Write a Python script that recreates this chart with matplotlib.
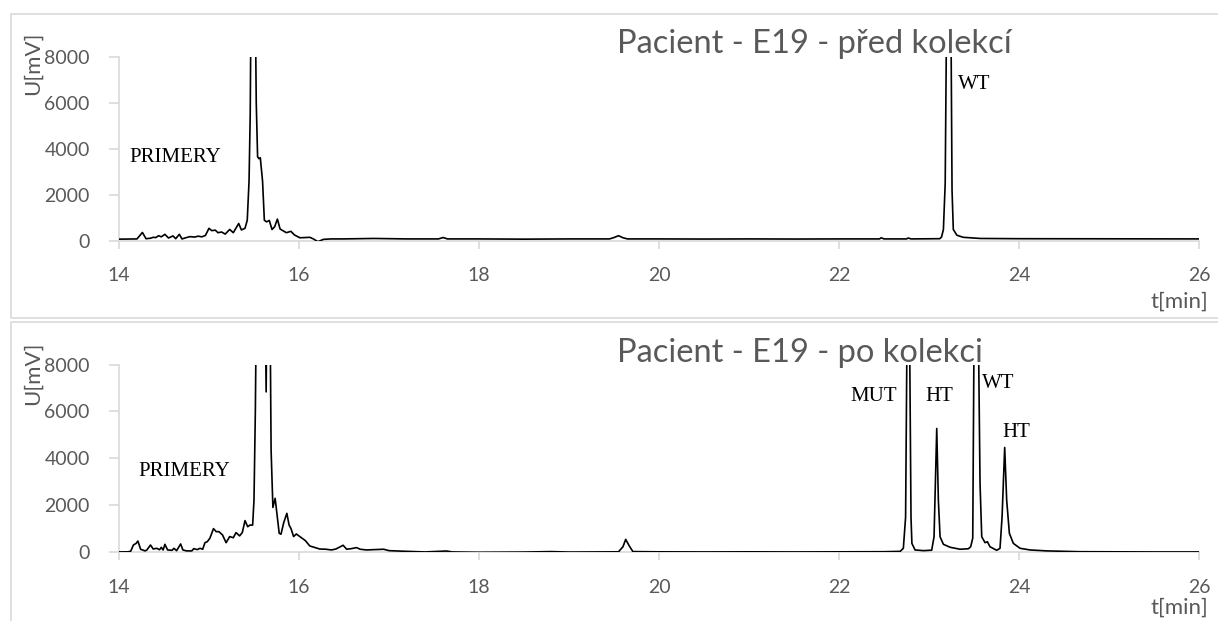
import matplotlib.pyplot as plt
from matplotlib.patches import Rectangle

# Data: chromatogram before collection (top) and after collection (bottom)
t_before = [14.00, 14.10, 14.20, 14.26, 14.30, 14.35, 14.38, 14.41, 14.44, 14.47,
            14.51, 14.55, 14.60, 14.63, 14.67, 14.70, 14.75, 14.79, 14.84, 14.88,
            14.92, 14.96, 15.00, 15.03, 15.07, 15.10, 15.14, 15.18, 15.23, 15.27,
            15.33, 15.36, 15.40, 15.425, 15.445, 15.458, 15.47, 15.49, 15.51, 15.525,
            15.54, 15.555, 15.57, 15.595, 15.615, 15.64, 15.67, 15.70, 15.73, 15.76,
            15.79, 15.82, 15.86, 15.91, 15.95, 16.01, 16.07, 16.12, 16.16, 16.21,
            16.27, 16.35, 16.49, 16.83, 17.20, 17.55, 17.60, 17.65, 18.00, 18.50,
            19.00, 19.45, 19.50, 19.55, 19.60, 19.65, 20.00, 20.50, 21.00, 21.50,
            22.00, 22.45, 22.47, 22.50, 22.75, 22.77, 22.80, 23.12, 23.14, 23.16,
            23.18, 23.20, 23.22, 23.24, 23.256, 23.27, 23.31, 23.38, 23.57, 24.00,
            25.00, 26.00]
u_before = [80, 85, 90, 370, 100, 120, 160, 150, 230, 180,
            290, 130, 220, 100, 290, 90, 150, 190, 170, 210,
            180, 240, 550, 450, 470, 360, 390, 300, 500, 360,
            760, 480, 550, 900, 2600, 5500, 12000, 25000, 12000, 6000,
            3650, 3570, 3610, 2600, 900, 830, 890, 500, 620, 950,
            520, 450, 360, 420, 260, 140, 150, 160, 90, -30,
            70, 90, 90, 110, 90, 90, 150, 90, 90, 80,
            90, 90, 150, 230, 140, 90, 90, 85, 90, 85,
            90, 90, 140, 90, 90, 130, 90, 100, 180, 500,
            2500, 12000, 22000, 12000, 2200, 500, 250, 160, 110, 100,
            95, 90]

t_after = [14.00, 14.10, 14.13, 14.16, 14.19, 14.21, 14.24, 14.29, 14.31, 14.35,
           14.38, 14.42, 14.45, 14.47, 14.49, 14.51, 14.54, 14.59, 14.61, 14.64,
           14.685, 14.71, 14.75, 14.81, 14.83, 14.87, 14.90, 14.93, 14.955, 14.98,
           15.01, 15.05, 15.08, 15.11, 15.15, 15.19, 15.23, 15.27, 15.30, 15.34,
           15.37, 15.40, 15.43, 15.455, 15.485, 15.50, 15.515, 15.53, 15.56, 15.60,
           15.62, 15.635, 15.645, 15.66, 15.675, 15.69, 15.71, 15.735, 15.75, 15.78,
           15.80, 15.83, 15.865, 15.89, 15.91, 15.94, 15.97, 16.01, 16.07, 16.12,
           16.18, 16.23, 16.30, 16.36, 16.41, 16.46, 16.49, 16.53, 16.58, 16.64,
           16.68, 16.75, 16.94, 17.00, 17.20, 17.40, 17.64, 17.70, 18.00, 18.50,
           18.80, 19.00, 19.55, 19.60, 19.63, 19.67, 19.71, 20.00, 20.50, 21.00,
           21.50, 22.00, 22.50, 22.68, 22.715, 22.74, 22.755, 22.77, 22.785, 22.80,
           22.81, 22.845, 22.94, 23.03, 23.056, 23.086, 23.104, 23.123, 23.16, 23.234,
           23.345, 23.437, 23.463, 23.486, 23.50, 23.525, 23.55, 23.567, 23.586, 23.623,
           23.649, 23.678, 23.752, 23.789, 23.812, 23.841, 23.863, 23.893, 23.937, 24.012,
           24.123, 24.307, 24.678, 25.00, 25.50, 26.00]
u_after = [15, 20, 45, 310, 380, 480, 130, 60, 100, 310,
           140, 170, 110, 210, 100, 340, 100, 85, 170, 70,
           355, 100, 60, 60, 155, 115, 170, 130, 410, 450,
           600, 1010, 880, 880, 740, 410, 670, 620, 840, 700,
           840, 1350, 1090, 1160, 1160, 2230, 6000, 12000, 25000, 25000,
           12000, 6835, 12000, 25000, 12000, 4350, 1910, 2300, 1800, 810,
           770, 1260, 1660, 1160, 1020, 670, 780, 670, 500, 270,
           200, 140, 130, 100, 140, 240, 300, 130, 155, 200,
           130, 100, 130, 70, 40, 15, 55, 15, 0, 10,
           30, 10, 20, 240, 550, 270, 30, 20, 15, 20,
           15, 20, 25, 40, 170, 1500, 9000, 25000, 9000, 1500,
           380, 100, 70, 90, 660, 5275, 2225, 660, 340, 215,
           130, 150, 235, 600, 9000, 25000, 9000, 2935, 660, 410,
           450, 235, 85, 170, 1515, 4465, 2225, 810, 380, 170,
           100, 60, 25, 20, 15, 15]

titles = ["Pacient - E19 - před kolekcí", "Pacient - E19 - po kolekci"]
labels_before = [("PRIMERY", 14.62, 3630), ("WT", 23.50, 6780)]
labels_after = [("PRIMERY", 14.72, 3460), ("MUT", 22.38, 6655), ("HT", 23.12, 6655),
                ("WT", 23.77, 7200), ("HT", 23.97, 5120)]

W, H = 1218, 621
fig = plt.figure(figsize=(W / 100, H / 100), dpi=100)
plt.rcParams['font.family'] = ['Lato', 'DejaVu Sans']

grey = '#d9d9d9'
txt = '#595959'


def fx(px):
    return px / W


def fy(py):
    return 1 - py / H


# panel frames
fig.patches.append(Rectangle((fx(11), fy(318)), fx(1240), fy(14) - fy(318),
                             transform=fig.transFigure, fill=False, edgecolor=grey, lw=1.2))
fig.patches.append(Rectangle((fx(11), fy(660)), fx(1240), fy(322) - fy(660),
                             transform=fig.transFigure, fill=False, edgecolor=grey, lw=1.2))

panels = [
    (t_before, u_before, labels_before, 56.5, 241.0, titles[0], 44, 302),
    (t_after, u_after, labels_after, 364.5, 552.3, titles[1], 353, 608),
]

for t, u, labels, ytop, ybot, title, title_y, tlab_y in panels:
    ax = fig.add_axes([fx(119), fy(ybot), fx(1199) - fx(119), fy(ytop) - fy(ybot)])
    ax.plot(t, u, color='black', lw=1.2, zorder=3)
    ax.set_xlim(14, 26)
    ax.set_ylim(0, 8000)
    ax.set_xticks(range(14, 27, 2))
    ax.set_yticks(range(0, 8001, 2000))
    for s in ['top', 'right']:
        ax.spines[s].set_visible(False)
    for s in ['left', 'bottom']:
        ax.spines[s].set_color(grey)
        ax.spines[s].set_linewidth(1.2)
    ax.tick_params(axis='x', colors=grey, labelcolor=txt, labelsize=14,
                   length=6, width=1.2, pad=13)
    ax.tick_params(axis='y', colors=grey, labelcolor=txt, labelsize=14,
                   length=7, width=1.2, pad=14)
    for lab, lx, ly in labels:
        ax.text(lx, ly, lab, family='Liberation Serif', fontsize=15,
                ha='center', va='center', color='black')
    fig.text(fx(617), fy(title_y), title, fontsize=23.5, color=txt,
             ha='left', va='center')
    fig.text(fx(1208), fy(tlab_y), 't[min]', fontsize=16, color=txt,
             ha='right', va='center')
    fig.text(fx(33), fy((ytop + ybot) / 2 - 85), 'U[mV]', fontsize=16, color=txt,
             rotation=90, ha='center', va='center')

fig.savefig('out.png', dpi=100)
